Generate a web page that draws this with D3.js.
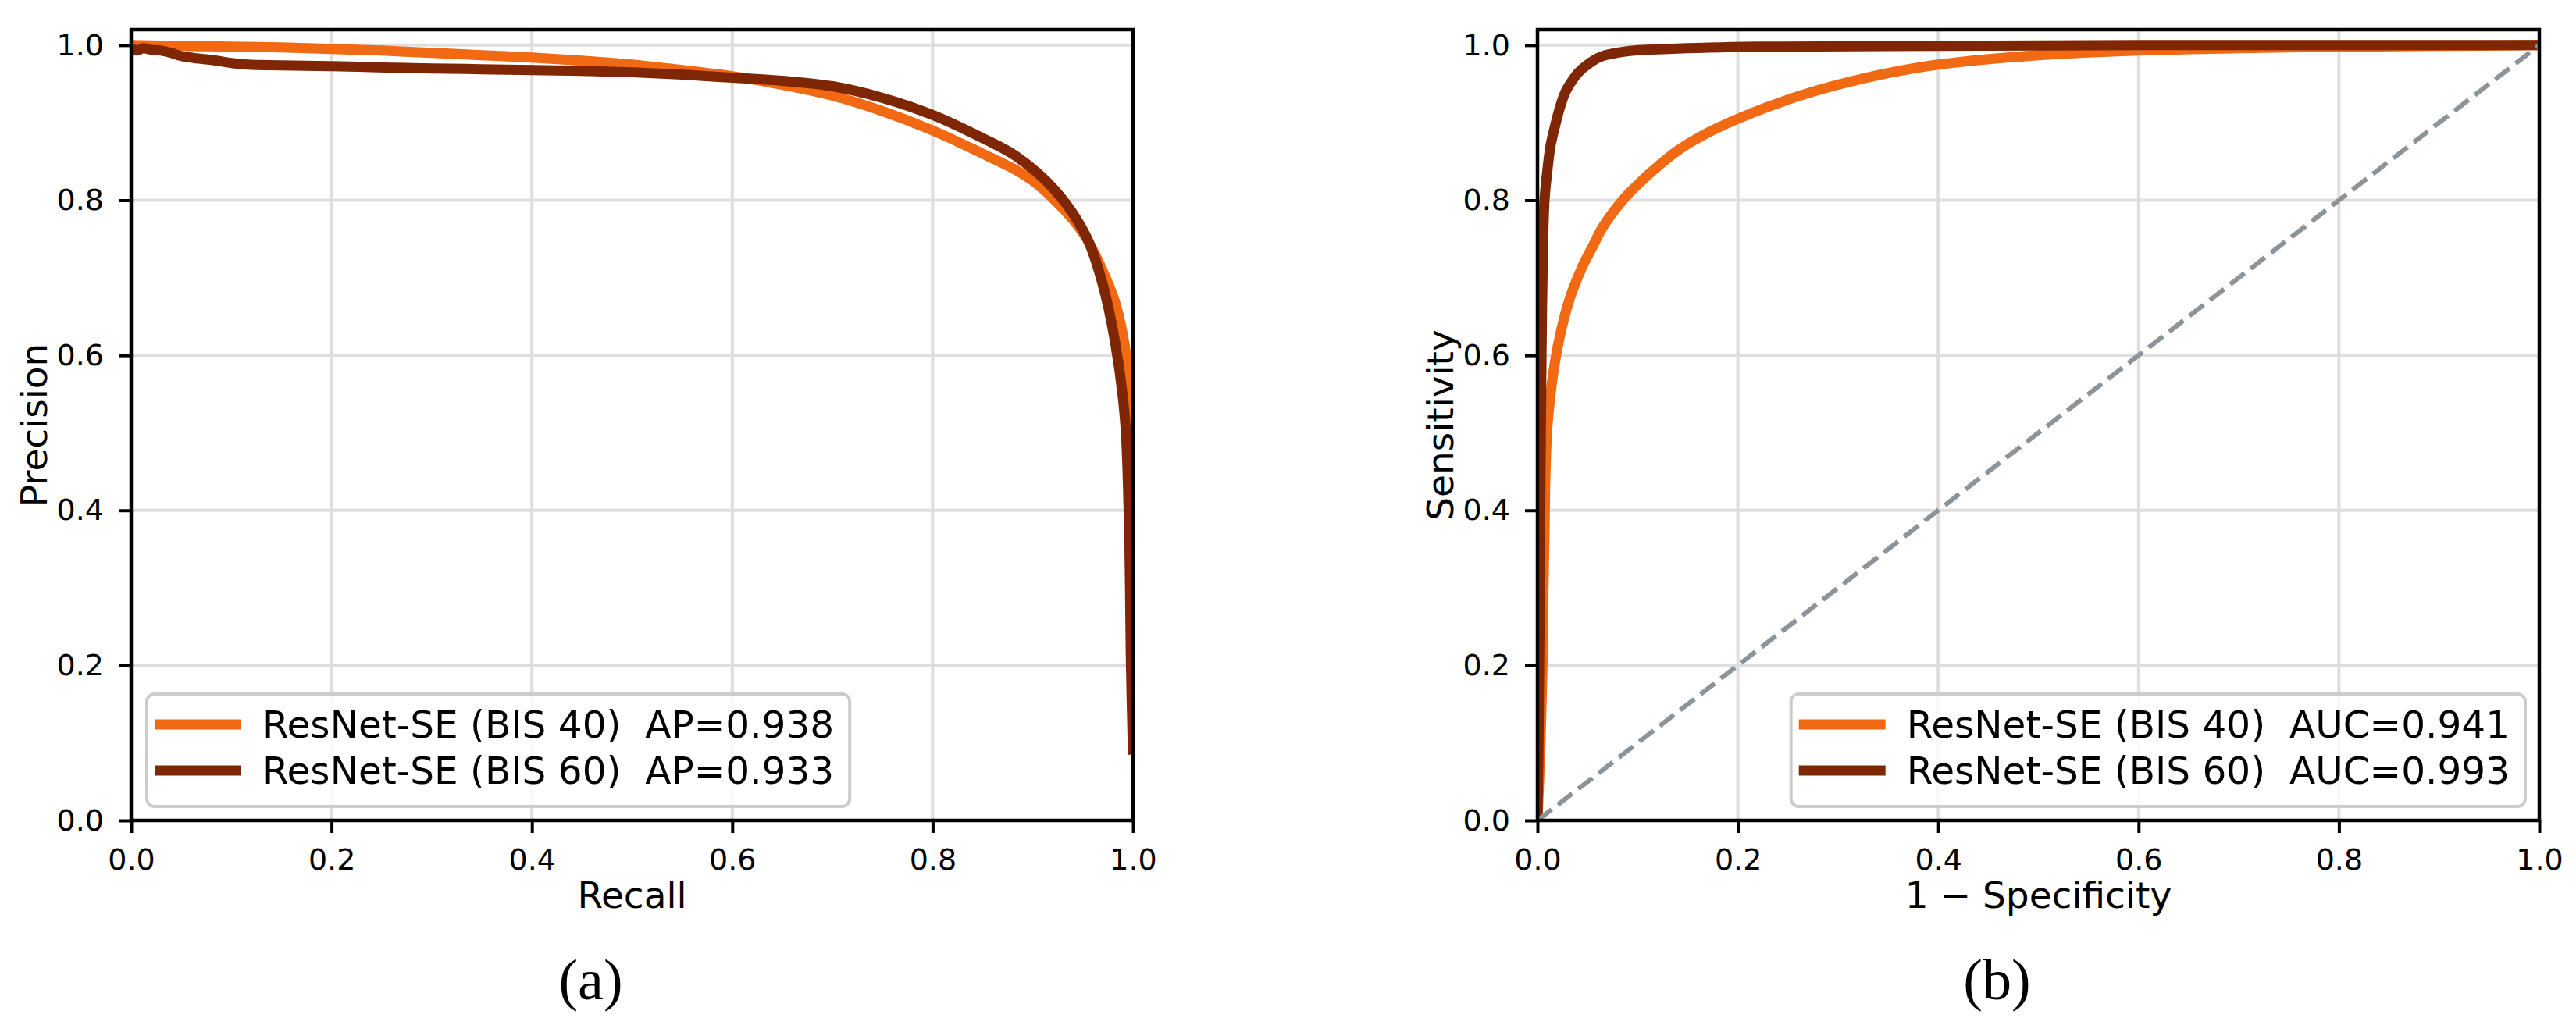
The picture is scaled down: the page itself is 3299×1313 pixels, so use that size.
<!DOCTYPE html>
<html>
<head>
<meta charset="utf-8">
<script src="https://cdn.jsdelivr.net/npm/d3@7"></script>
<style>
  body { margin: 0; background: #fff; }
  text { font-family: "DejaVu Sans", sans-serif; fill: #000; }
  .caption { font-family: "Liberation Serif", serif; }
</style>
</head>
<body>
<svg id="fig" width="3299" height="1313"></svg>
<script>
// ---- data ----
var tickValues = [0, 0.2, 0.4, 0.6, 0.8, 1.0];

// precision / recall, BIS 40
var prRecall40 = [0, 0.05, 0.1, 0.15, 0.2, 0.25, 0.3, 0.35, 0.4, 0.45, 0.5, 0.55, 0.6, 0.65, 0.7, 0.75, 0.8, 0.85, 0.883, 0.9, 0.922, 0.94, 0.953, 0.969, 0.982, 0.992, 0.996, 0.999, 1.0];
var prPrecision40 = [1.0, 0.999, 0.998, 0.997, 0.995, 0.993, 0.99, 0.987, 0.984, 0.98, 0.975, 0.968, 0.96, 0.949, 0.935, 0.915, 0.89, 0.86, 0.839, 0.825, 0.80, 0.775, 0.752, 0.711, 0.669, 0.61, 0.55, 0.50, 0.085];

// precision / recall, BIS 60
var prRecall60 = [0, 0.005, 0.012, 0.02, 0.03, 0.04, 0.05, 0.065, 0.08, 0.1, 0.116, 0.15, 0.2, 0.26, 0.3, 0.35, 0.4, 0.45, 0.5, 0.55, 0.6, 0.65, 0.7, 0.75, 0.8, 0.85, 0.883, 0.922, 0.953, 0.969, 0.982, 0.992, 0.996, 0.998, 1.0];
var prPrecision60 = [0.997, 0.993, 0.996, 0.994, 0.993, 0.99, 0.986, 0.983, 0.981, 0.977, 0.975, 0.974, 0.973, 0.971, 0.970, 0.969, 0.968, 0.967, 0.965, 0.962, 0.958, 0.954, 0.947, 0.932, 0.910, 0.880, 0.857, 0.813, 0.754, 0.695, 0.618, 0.517, 0.38, 0.2, 0.085];

// ROC, BIS 40
var rocFpr40 = [0, 0.003, 0.005, 0.006, 0.007, 0.008, 0.01, 0.015, 0.02, 0.027, 0.034, 0.045, 0.055, 0.065, 0.085, 0.1, 0.115, 0.14, 0.17, 0.215, 0.26, 0.3, 0.35, 0.4, 0.5, 0.6, 0.7, 0.8, 0.9, 1.0];
var rocTpr40 = [0, 0.1, 0.2, 0.3, 0.37, 0.45, 0.51, 0.57, 0.61, 0.65, 0.68, 0.715, 0.74, 0.765, 0.8, 0.82, 0.838, 0.864, 0.887, 0.913, 0.934, 0.949, 0.964, 0.975, 0.987, 0.993, 0.996, 0.998, 0.999, 1.0];

// ROC, BIS 60
var rocFpr60 = [0, 0.001, 0.002, 0.003, 0.004, 0.005, 0.007, 0.01, 0.013, 0.017, 0.022, 0.028, 0.035, 0.041, 0.05, 0.063, 0.089, 0.13, 0.22, 0.4, 0.6, 1.0];
var rocTpr60 = [0, 0.1, 0.25, 0.45, 0.6, 0.7, 0.8, 0.84, 0.87, 0.893, 0.918, 0.94, 0.955, 0.965, 0.975, 0.985, 0.992, 0.995, 0.998, 0.999, 1.0, 1.0];

var seriesNames = ["ResNet-SE (BIS 40)", "ResNet-SE (BIS 60)"];
var apLabels = ["AP=0.938", "AP=0.933"];
var aucLabels = ["AUC=0.941", "AUC=0.993"];
var colors = ["#f16913", "#7f2704"];

// ---- drawing ----
var svg = d3.select('#fig');
svg.append('rect').attr('width', 3299).attr('height', 1313).attr('fill', '#fff');

function zip(a, b){
    return a.map(function(v, i){ return [v, b[i]]; });
}

function draw_panel(p){
    var x = d3.scaleLinear().domain([0, 1]).range([p.left, p.left + 1283]);
    var y = d3.scaleLinear().domain([0, 1.02]).range([1051, 38]);
    var g = svg.append('g');

    // grid
    g.selectAll('.gx').data(tickValues).enter().append('line')
        .attr('x1', function(d){ return x(d); }).attr('x2', function(d){ return x(d); })
        .attr('y1', y(0)).attr('y2', y(1.02))
        .attr('stroke', '#dedede').attr('stroke-width', 4);
    g.selectAll('.gy').data(tickValues).enter().append('line')
        .attr('y1', function(d){ return y(d); }).attr('y2', function(d){ return y(d); })
        .attr('x1', x(0)).attr('x2', x(1))
        .attr('stroke', '#dedede').attr('stroke-width', 4);

    // curves, clipped to the axes box
    svg.append('clipPath').attr('id', 'clip-' + p.id).append('rect')
        .attr('x', x(0)).attr('y', y(1.02))
        .attr('width', x(1) - x(0)).attr('height', y(0) - y(1.02));
    var lines = g.append('g').attr('clip-path', 'url(#clip-' + p.id + ')');
    var line = d3.line()
        .x(function(d){ return x(d[0]); })
        .y(function(d){ return y(d[1]); })
        .curve(d3.curveCatmullRom.alpha(0.5));
    p.series.forEach(function(s, i){
        lines.append('path').attr('d', line(s))
            .attr('fill', 'none').attr('stroke', colors[i])
            .attr('stroke-width', 13).attr('stroke-linejoin', 'round');
    });
    if(p.diagonal){
        lines.append('path').attr('d', d3.line().x(function(d){ return x(d[0]); }).y(function(d){ return y(d[1]); })([[0, 0], [1, 1]]))
            .attr('fill', 'none').attr('stroke', '#8c9399')
            .attr('stroke-width', 6).attr('stroke-dasharray', '23,10');
    }

    // axes
    var fmt = d3.format('.1f');
    var ax = g.append('g').attr('transform', 'translate(0,' + y(0) + ')')
        .call(d3.axisBottom(x).tickValues(tickValues).tickFormat(fmt).tickSize(16).tickSizeOuter(0).tickPadding(20));
    var ay = g.append('g').attr('transform', 'translate(' + x(0) + ',0)')
        .call(d3.axisLeft(y).tickValues(tickValues).tickFormat(fmt).tickSize(16).tickSizeOuter(0).tickPadding(19));
    [ax, ay].forEach(function(a){
        a.select('.domain').remove();
        a.selectAll('line').attr('stroke', '#000').attr('stroke-width', 4);
        a.selectAll('text').attr('font-size', 38).attr('font-family', '"DejaVu Sans", sans-serif').attr('fill', '#000');
    });

    // spines
    g.append('rect').attr('x', x(0)).attr('y', y(1.02))
        .attr('width', x(1) - x(0)).attr('height', y(0) - y(1.02))
        .attr('fill', 'none').attr('stroke', '#000').attr('stroke-width', 4.5);

    // axis labels
    g.append('text').attr('x', (x(0) + x(1)) / 2).attr('y', 1163)
        .attr('text-anchor', 'middle').attr('font-size', 47).text(p.xlabel);
    g.append('text').attr('transform', 'translate(' + (x(0) - 108) + ',' + ((y(0) + y(1.02)) / 2) + ') rotate(-90)')
        .attr('text-anchor', 'middle').attr('font-size', 47).text(p.ylabel);

    // caption
    g.append('text').attr('class', 'caption')
        .attr('x', (x(0) + x(1)) / 2 - 53).attr('y', 1280)
        .attr('text-anchor', 'middle').attr('font-size', 74).text(p.caption);

    // legend
    var lg = g.append('g');
    var box = lg.append('rect').attr('fill', '#fff').attr('fill-opacity', 0.8)
        .attr('stroke', '#cccccc').attr('stroke-width', 4).attr('rx', 10);
    var rows = [928, 987];
    var widest = 0;
    var labels = [];
    p.legend.forEach(function(txt, i){
        var t = lg.append('text').attr('y', rows[i]).attr('dy', '0.36em')
            .attr('font-size', 48.5).attr('xml:space', 'preserve').text(txt);
        labels.push(t);
        widest = Math.max(widest, t.node().getComputedTextLength());
    });
    var boxW = 148 + widest + 20;
    var boxX = p.legendRight ? x(1) - 18 - boxW : x(0) + 20;
    box.attr('x', boxX).attr('y', 889).attr('width', boxW).attr('height', 144);
    labels.forEach(function(t, i){
        t.attr('x', boxX + 148);
        lg.append('line').attr('x1', boxX + 10).attr('x2', boxX + 121)
            .attr('y1', rows[i]).attr('y2', rows[i])
            .attr('stroke', colors[i]).attr('stroke-width', 13);
    });
}

draw_panel({
    id: 'pr', left: 168,
    series: [zip(prRecall40, prPrecision40), zip(prRecall60, prPrecision60)],
    xlabel: 'Recall', ylabel: 'Precision', caption: '(a)',
    legend: [seriesNames[0] + '  ' + apLabels[0], seriesNames[1] + '  ' + apLabels[1]],
    legendRight: false, diagonal: false
});
draw_panel({
    id: 'roc', left: 1969,
    series: [zip(rocFpr40, rocTpr40), zip(rocFpr60, rocTpr60)],
    xlabel: '1 \u2212 Specificity', ylabel: 'Sensitivity', caption: '(b)',
    legend: [seriesNames[0] + '  ' + aucLabels[0], seriesNames[1] + '  ' + aucLabels[1]],
    legendRight: true, diagonal: true
});
</script>
</body>
</html>
